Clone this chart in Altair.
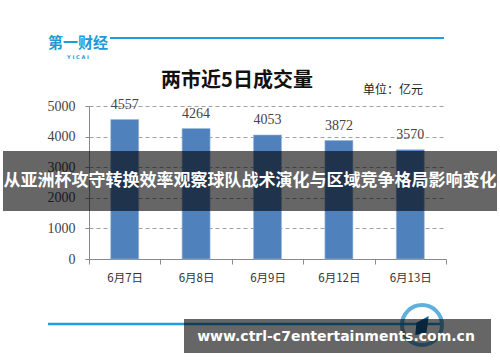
import altair as alt
import pandas as pd

# ---- data ----
dates = ["6月7日", "6月8日", "6月9日", "6月12日", "6月13日"]
volumes = [4557, 4264, 4053, 3872, 3570]
y_ticks = [0, 1000, 2000, 3000, 4000, 5000]

title_text = "两市近5日成交量"
unit_text = "单位：亿元"
banner_text = "从亚洲杯攻守转换效率观察球队战术演化与区域竞争格局影响变化"
site_text = "www.ctrl-c7entertainments.com.cn"
logo_text = "第一财经"
logo_sub = "Y  I  C  A  I"

df = pd.DataFrame({"date": dates, "vol": volumes})
one = pd.DataFrame({"k": [0]})

# plot area origin in page: (89, 106); size 357 x 153
W, H = 357, 153

x_axis = alt.Axis(labelAngle=0, tickBand="extent", domainColor="#8a8a8a", tickColor="#8a8a8a",
                  tickSize=5, labelPadding=8, labelFont="Noto Sans CJK SC", labelFontSize=11.5,
                  labelColor="#333333", grid=False)
y_axis = alt.Axis(values=y_ticks, format="d", labelOverlap=False, grid=True, gridDash=[4, 3],
                  gridColor="#a0a0a0", domainColor="#8a8a8a", tickColor="#8a8a8a", tickSize=4,
                  labelPadding=10, labelFont="Liberation Serif", labelFontSize=14,
                  labelColor="#444444")
x_scale = alt.Scale(paddingInner=0, paddingOuter=0)
y_scale = alt.Scale(domain=[0, 5000], nice=False)

bars = alt.Chart(df).mark_bar(color="#4f81bd", width=28, stroke="#9fb9dc", strokeWidth=0.6).encode(
    x=alt.X("date:N", sort=dates, title=None, scale=x_scale, axis=x_axis),
    y=alt.Y("vol:Q", title=None, scale=y_scale, axis=y_axis))
labels = alt.Chart(df).mark_text(font="Liberation Serif", fontSize=14, color="#444444", dy=-15).encode(
    x=alt.X("date:N", sort=dates, title=None, scale=x_scale, axis=x_axis),
    y=alt.Y("vol:Q", title=None, scale=y_scale, axis=y_axis),
    text=alt.Text("vol:Q", format="d"))

def rule(x1, x2, y, color, w):
    return alt.Chart(one).mark_rule(color=color, strokeWidth=w).encode(
        x=alt.value(x1), x2=alt.value(x2), y=alt.value(y))

def rect(x1, x2, y1, y2, color, op):
    return alt.Chart(one).mark_rect(color=color, opacity=op).encode(
        x=alt.value(x1), x2=alt.value(x2), y=alt.value(y1), y2=alt.value(y2))

def txt(s, x, y, size, color, font, weight="normal", align="center"):
    return alt.Chart(one).mark_text(text=s, fontSize=size, color=color, font=font,
                                    fontWeight=weight, align=align, baseline="middle").encode(
        x=alt.value(x), y=alt.value(y))

top_line = rule(21, 355, -68, "#1e9ee0", 2.2)
logo = txt(logo_text, -41, -63, 15, "#1e9ad6", "Noto Sans CJK SC", "bold", "left")
logo2 = txt(logo_sub, -11, -49, 5, "#1e9ad6", "DejaVu Sans", "bold")
title = txt(title_text, 148, -25, 20, "#111111", "Noto Sans CJK SC", "bold")
unit = txt(unit_text, 304, -16, 12, "#222222", "Noto Sans CJK SC")

banner = rect(-86, 408, 45, 105, "#000000", 0.6)
banner_t = txt(banner_text, 161, 75, 17, "#ffffff", "Noto Sans CJK SC", "bold")

bottom_line = rule(-41, 351, 218, "#1e9ee0", 2.5)
circle = alt.Chart(one).mark_point(shape="circle", size=1600, filled=False, stroke="#1e8fcf",
                                   strokeWidth=4).encode(x=alt.value(333), y=alt.value(219))
icon = alt.Chart(one).mark_point(shape="M-0.5,-0.2 L0.6,-0.8 L0.4,0.7 L-0.6,0.9 Z", size=500,
                                 filled=True, color="#0e5f96", opacity=1).encode(
    x=alt.value(333), y=alt.value(219))
box = rect(95, 402, 213, 247, "#000000", 0.6)
box_t = txt(site_text, 247, 231, 14, "#ffffff", "DejaVu Sans", "bold")

chart = alt.layer(
    bars, labels, top_line, logo, logo2, title, unit,
    banner, banner_t, bottom_line, circle, icon, box, box_t
).properties(
    width=W, height=H,
    padding={"left": 89, "top": 106, "right": 54, "bottom": 103},
    autosize=alt.AutoSizeParams(type="none"),
    background="white",
).configure_view(stroke=None)

chart.save("out.html", embed_options={"renderer": "svg", "actions": False})
